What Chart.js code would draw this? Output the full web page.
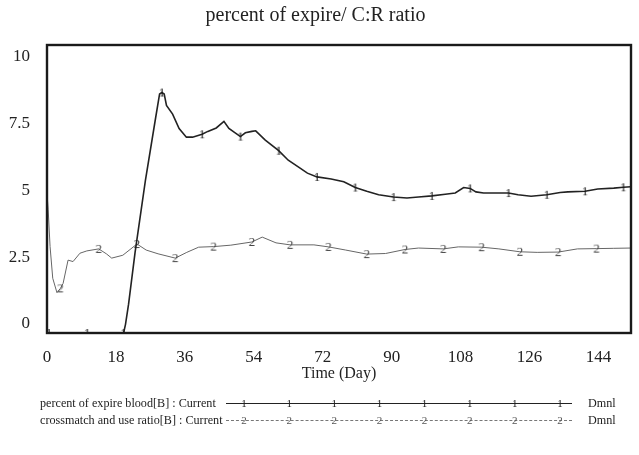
<!DOCTYPE html>
<html>
<head>
<meta charset="utf-8">
<script src="https://cdn.jsdelivr.net/npm/chart.js@4.4.1/dist/chart.umd.min.js"></script>
<style>
  body { margin: 0; background: #fff; }
  #wrap { position: relative; width: 639px; height: 455px; font-family: "Liberation Serif", serif; color: #222; }
  #chart { position: absolute; left: 0; top: 0; }
  .lg-text { position: absolute; font-size: 13.5px; white-space: nowrap; line-height: 14px; transform: scaleX(0.9); transform-origin: left center; }
  .lg-line { position: absolute; height: 0; }
  .lg-mark { position: absolute; font-size: 11px; line-height: 11px; transform: translateX(-50%); }
</style>
</head>
<body>
<div id="wrap">
  <canvas id="chart" width="639" height="455"></canvas>
  <div class="lg-text" style="left:40px; top:396px;">percent of expire blood[B] : Current</div>
  <div class="lg-line" id="lg1" style="left:226px; top:403px; width:346px; border-top:1.5px solid #222;"></div>
  <div class="lg-text" style="left:588px; top:396px;">Dmnl</div>
  <div class="lg-text" style="left:40px; top:413px;">crossmatch and use ratio[B] : Current</div>
  <div class="lg-line" id="lg2" style="left:226px; top:420px; width:346px; border-top:1px dashed #777;"></div>
  <div class="lg-text" style="left:588px; top:413px;">Dmnl</div>
</div>
<script>
// percent of expire blood[B]
const days1 = [0, 0.5, 10.5, 20, 20.5, 21.3, 23, 25.7, 28.4, 29.4, 30, 30.6, 31.2, 32.8, 34.5, 36.4, 38, 40.5, 42, 44.2, 46.2, 47.5, 50.5, 51.8, 53.5, 54.5, 57, 60.5, 63, 65.8, 68, 70.5, 74.2, 77.5, 80.5, 83.5, 86.6, 90.5, 94, 97, 100.5, 104, 106.6, 108.8, 110.5, 112, 114, 120.5, 123, 126.4, 130.5, 134, 136, 140.5, 143.8, 148, 150.5, 152.5];
const values1 = [0, 0, 0, 0, 0.3, 1.0, 2.8, 5.3, 7.5, 8.3, 8.35, 8.3, 7.9, 7.6, 7.1, 6.8, 6.8, 6.9, 7.0, 7.12, 7.35, 7.1, 6.82, 6.95, 7.0, 7.02, 6.7, 6.33, 6.0, 5.75, 5.55, 5.42, 5.35, 5.25, 5.05, 4.92, 4.8, 4.72, 4.69, 4.72, 4.76, 4.82, 4.86, 5.05, 5.02, 4.9, 4.86, 4.86, 4.8, 4.75, 4.8, 4.88, 4.9, 4.92, 5.0, 5.03, 5.06, 5.08];
const marks1 = [0.5, 10.5, 20, 30, 40.5, 50.5, 60.5, 70.5, 80.5, 90.5, 100.5, 110.5, 120.5, 130.5, 140.5, 150.5];

// crossmatch and use ratio[B]
const days2 = [0, 0.3, 0.8, 1.5, 2.6, 3.5, 4.2, 5.5, 6.8, 8.6, 10.4, 13.5, 15.5, 16.9, 19.8, 23.5, 25.9, 29, 33.5, 36.5, 39.6, 43.5, 48, 53.5, 56.2, 59.8, 63.5, 69.7, 73.5, 78, 83.5, 88.4, 93.5, 97, 103.5, 107.4, 113.5, 118, 123.5, 128, 133.5, 138.5, 143.5, 148, 152.5];
const values2 = [4.85, 4.3, 3.0, 1.9, 1.4, 1.55, 1.72, 2.53, 2.48, 2.77, 2.85, 2.92, 2.75, 2.6, 2.7, 3.09, 2.88, 2.75, 2.6, 2.8, 2.98, 3.0, 3.05, 3.16, 3.33, 3.13, 3.06, 3.06, 2.99, 2.88, 2.74, 2.76, 2.9, 2.95, 2.92, 2.99, 2.98, 2.92, 2.82, 2.8, 2.81, 2.92, 2.93, 2.94, 2.95];
const marks2 = [3.5, 13.5, 23.5, 33.5, 43.5, 53.5, 63.5, 73.5, 83.5, 93.5, 103.5, 113.5, 123.5, 133.5, 143.5];

const xTicks = [0, 18, 36, 54, 72, 90, 108, 126, 144];
const yTicks = [0, 2.5, 5, 7.5, 10];
const legendMarks = 8;

// small "1" / "2" glyph used as point marker
function glyph(ch, color) {
    const c = document.createElement('canvas');
    c.width = 12; c.height = 16;
    const g = c.getContext('2d');
    g.fillStyle = color;
    g.font = '13px "Liberation Serif"';
    g.textAlign = 'center';
    g.textBaseline = 'middle';
    g.fillText(ch, 6, 9);
    return c;
}

// markers on the legend line samples
function legendMarkers(id, ch, color) {
    const line = document.getElementById(id);
    const w = parseFloat(line.style.width);
    for (let i = 0; i < legendMarks; i++) {
        const m = document.createElement('span');
        m.className = 'lg-mark';
        m.textContent = ch;
        m.style.color = color;
        m.style.left = (18 + i * (w - 30) / (legendMarks - 1)) + 'px';
        m.style.top = '-6px';
        line.appendChild(m);
    }
}
legendMarkers('lg1', '1', '#222');
legendMarkers('lg2', '2', '#555');

const frame = {
    id: 'frame',
    afterDatasetsDraw(chart) {
        const a = chart.chartArea;
        const ctx = chart.ctx;
        ctx.save();
        ctx.strokeStyle = '#1a1a1a';
        ctx.lineWidth = 2.4;
        ctx.strokeRect(a.left, a.top, a.right - a.left, a.bottom - a.top);
        ctx.restore();
    }
};

const g1 = glyph('1', '#1a1a1a');
const g2 = glyph('2', '#444');

new Chart(document.getElementById('chart'), {
    type: 'line',
    data: {
        datasets: [{
            label: 'percent of expire blood[B] : Current',
            data: days1.map((d, i) => ({x: d, y: values1[i]})),
            borderColor: '#222',
            borderWidth: 1.6,
            pointStyle: g1,
            pointRadius: c => marks1.includes(c.raw.x) ? 4 : 0,
            tension: 0
        }, {
            label: 'crossmatch and use ratio[B] : Current',
            data: days2.map((d, i) => ({x: d, y: values2[i]})),
            borderColor: '#666',
            borderWidth: 1,
            pointStyle: g2,
            pointRadius: c => marks2.includes(c.raw.x) ? 4 : 0,
            tension: 0
        }]
    },
    options: {
        responsive: false,
        animation: false,
        layout: { padding: { left: 0, right: 8, top: 0, bottom: 72 } },
        plugins: {
            legend: { display: false },
            tooltip: { enabled: false },
            title: {
                display: true,
                text: 'percent of expire/ C:R ratio',
                color: '#222',
                font: { family: 'Liberation Serif', size: 20, weight: 'normal' },
                padding: { top: 4, bottom: 17 }
            }
        },
        scales: {
            x: {
                type: 'linear',
                min: 0,
                max: 152.5,
                grid: { display: false },
                border: { display: false },
                afterBuildTicks: s => { s.ticks = xTicks.map(v => ({value: v})); },
                afterFit: s => { s.height = 50; },
                ticks: {
                    color: '#222',
                    padding: 6,
                    maxRotation: 0,
                    font: { family: 'Liberation Serif', size: 17 }
                },
                title: {
                    display: true,
                    text: 'Time (Day)',
                    color: '#222',
                    padding: 0,
                    font: { family: 'Liberation Serif', size: 16 }
                }
            },
            // data axis, plotted edge to edge of the frame
            y: {
                display: false,
                min: 0,
                max: 10
            },
            // label axis: the tick labels sit slightly inside the frame
            yl: {
                position: 'left',
                min: -0.34,
                max: 10.45,
                grid: { display: false },
                border: { display: false },
                afterBuildTicks: s => { s.ticks = yTicks.map(v => ({value: v})); },
                afterFit: s => { s.width = 47; },
                ticks: {
                    color: '#222',
                    padding: 9,
                    font: { family: 'Liberation Serif', size: 17 }
                }
            }
        }
    },
    plugins: [frame]
});
</script>
</body>
</html>
